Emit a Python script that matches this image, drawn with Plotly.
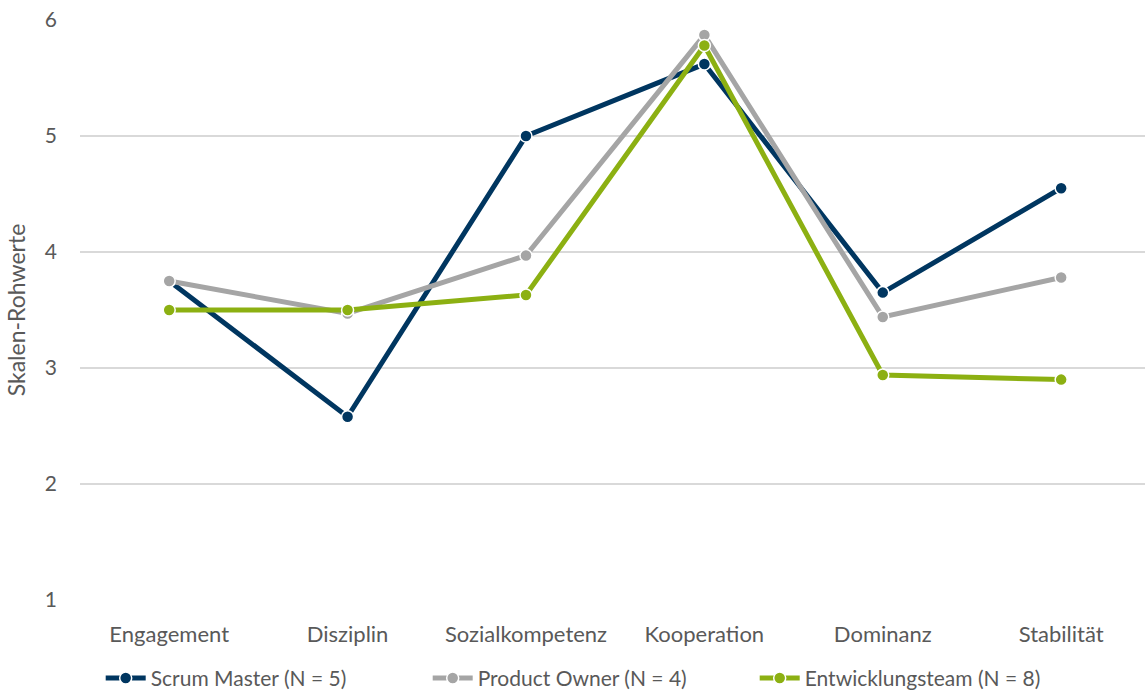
import plotly.graph_objects as go

categories = ["Engagement", "Disziplin", "Sozialkompetenz", "Kooperation", "Dominanz", "Stabilität"]
scrum_master = [3.75, 2.58, 5.00, 5.62, 3.65, 4.55]
product_owner = [3.75, 3.47, 3.97, 5.87, 3.44, 3.78]
entwicklungsteam = [3.50, 3.50, 3.63, 5.78, 2.94, 2.90]
series_names = ["Scrum Master (N = 5)", "Product Owner (N = 4)", "Entwicklungsteam (N = 8)"]
colors = ["#003660", "#A5A5A5", "#8CB012"]

fig = go.Figure()
for name, vals, col in zip(series_names, [scrum_master, product_owner, entwicklungsteam], colors):
    fig.add_trace(go.Scatter(
        x=categories, y=vals, name=name, mode="lines+markers",
        line=dict(color=col, width=5),
        marker=dict(color=col, size=12, line=dict(color="white", width=1.5)),
    ))

font_family = "Lato, Open Sans, sans-serif"
fig.update_layout(
    width=1145, height=695,
    margin=dict(l=80, r=0, t=20, b=95, autoexpand=False),
    paper_bgcolor="white", plot_bgcolor="white",
    font=dict(family=font_family, color="#595959", size=21),
    showlegend=True,
    legend=dict(orientation="h", x=0.48, xanchor="center", y=0.024, yanchor="middle",
                yref="container", entrywidth=272, entrywidthmode="pixels",
                font=dict(size=21, color="#595959"), itemwidth=40, tracegroupgap=0),
    xaxis=dict(range=[-0.5, 5.47], showgrid=False, zeroline=False, showline=False,
               ticks="", ticklabelstandoff=19, tickfont=dict(size=22, color="#595959")),
    yaxis=dict(range=[1, 6], dtick=1, showgrid=True, gridcolor="#D9D9D9", gridwidth=1.5,
               zeroline=False, showline=False, ticks="", ticklabelstandoff=22,
               tickfont=dict(size=21, color="#595959"),
               title=dict(text="Skalen-Rohwerte", font=dict(size=23, color="#595959"), standoff=12)),
)

fig.write_html("out.html")
